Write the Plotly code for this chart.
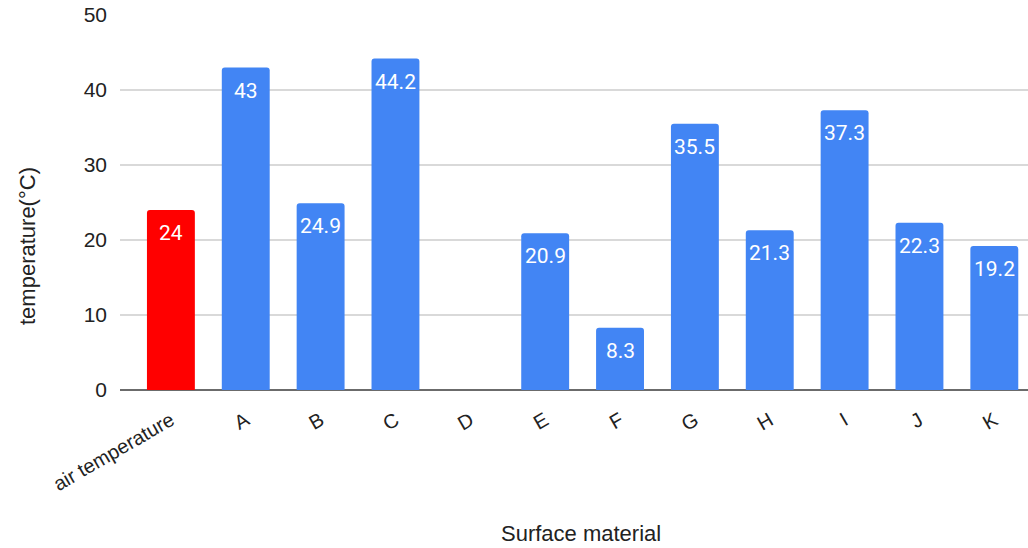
import plotly.graph_objects as go

# Surface temperature by material, compared with air temperature
categories = ["air temperature", "A", "B", "C", "D", "E", "F", "G", "H", "I", "J", "K"]
temperatures = [24, 43, 24.9, 44.2, None, 20.9, 8.3, 35.5, 21.3, 37.3, 22.3, 19.2]
bar_colors = ["#FF0000"] + ["#4285F4"] * 11
y_ticks = [0, 10, 20, 30, 40, 50]

AXIS_FONT = "Arial, Liberation Sans, sans-serif"
LABEL_FONT = "Roboto, sans-serif"

# plot area in pixels
W, H = 1028, 548
L, R, T, B = 120, 0, 15, 158
plot_w = W - L - R
plot_h = H - T - B


def px_to_paper(px, py):
    return (px - L) / plot_w, (H - B - py) / plot_h


fig = go.Figure()
fig.add_trace(go.Bar(
    x=categories,
    y=temperatures,
    marker=dict(color=bar_colors, line=dict(width=0), cornerradius=3),
    width=0.64,
    hoverinfo="x+y",
))

# value labels just inside the top of each bar
for cat, val in zip(categories, temperatures):
    if val is None:
        continue
    fig.add_annotation(
        x=cat, y=val, xref="x", yref="y",
        text=f"{val:g}", showarrow=False,
        yanchor="middle", yshift=-23,
        font=dict(family=LABEL_FONT, size=21, color="white"),
    )

# axis titles
tx, ty = px_to_paper(27, 246)
fig.add_annotation(
    x=tx, y=ty, xref="paper", yref="paper", text="temperature(°C)",
    showarrow=False, textangle=-90, xanchor="center", yanchor="middle",
    font=dict(family=AXIS_FONT, size=22, color="#222222"),
)
tx, ty = px_to_paper(581, 533)
fig.add_annotation(
    x=tx, y=ty, xref="paper", yref="paper", text="Surface material",
    showarrow=False, xanchor="center", yanchor="middle",
    font=dict(family=AXIS_FONT, size=22, color="#222222"),
)

fig.update_layout(
    width=W, height=H,
    margin=dict(l=L, r=R, t=T, b=B),
    paper_bgcolor="white", plot_bgcolor="white",
    showlegend=False,
    xaxis=dict(
        range=[-0.68, 11.45],
        tickangle=-30,
        tickfont=dict(family=AXIS_FONT, size=20, color="#222222"),
        showgrid=False,
        showline=False,
        ticks="",
        ticklabelstandoff=14,
    ),
    yaxis=dict(
        range=[0, 50],
        tickvals=y_ticks,
        tickfont=dict(family=AXIS_FONT, size=21, color="#222222"),
        showgrid=True, gridcolor="#D9D9D9", gridwidth=1.5,
        zeroline=True, zerolinecolor="#6B6B6B", zerolinewidth=1.5,
        showline=False, ticks="", ticklen=0,
        ticklabelstandoff=12,
    ),
)

fig.write_html("out.html")
